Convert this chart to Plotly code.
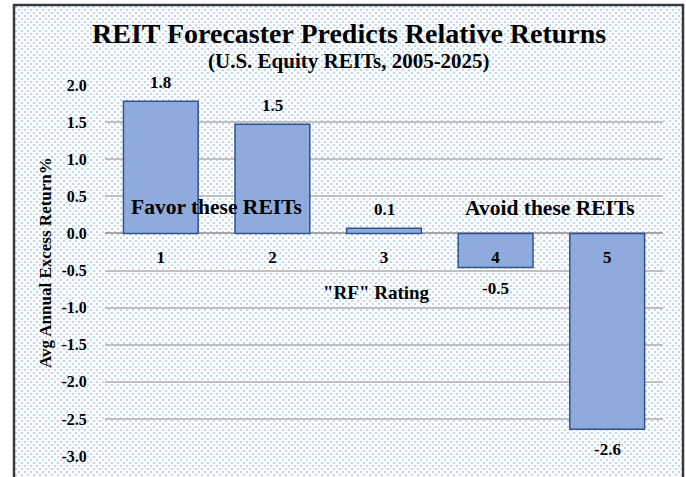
import base64
import plotly.graph_objects as go

# ---- data ----
categories = ["1", "2", "3", "4", "5"]
values = [1.78, 1.47, 0.07, -0.46, -2.64]
value_labels = ["1.8", "1.5", "0.1", "-0.5", "-2.6"]
y_tick_vals = [2.0, 1.5, 1.0, 0.5, 0.0, -0.5, -1.0, -1.5, -2.0, -2.5, -3.0]
y_tick_text = ["2.0", "1.5", "1.0", "0.5", "0.0", "-0.5", "-1.0", "-1.5", "-2.0", "-2.5", "-3.0"]
y_range = [-3.0, 2.0]

title = "REIT Forecaster Predicts Relative Returns"
subtitle = "(U.S. Equity REITs, 2005-2025)"
y_title = "Avg Annual Excess Return%"
x_title = "\"RF\" Rating"
favor_text = "Favor these REITs"
avoid_text = "Avoid these REITs"

# ---- geometry ----
W, H = 686, 477
L, R, T, B = 105, 23, 85, 21
PW, PH = W - L - R, H - T - B


def px(x):
    return (x - L) / PW


def py(y):
    return (H - B - y) / PH


SERIF = "Liberation Serif, Times New Roman, serif"
BAR_FILL = "#8faadc"
BAR_LINE = "#2f528f"

# dotted background pattern as svg
fx0, fx1, fy0, fy1 = 15, 682, 6, 477
bw, bh = fx1 - fx0, fy1 - fy0
svg = (
    f'<svg xmlns="http://www.w3.org/2000/svg" width="{bw}" height="{bh}">'
    '<defs><pattern id="p" width="6" height="6" patternUnits="userSpaceOnUse">'
    '<rect width="6" height="6" fill="#ffffff"/>'
    '<rect x="0" y="0" width="2" height="2" fill="#bdd7f2"/>'
    '<rect x="3" y="3" width="2" height="2" fill="#bdd7f2"/>'
    '</pattern></defs>'
    f'<rect width="{bw}" height="{bh}" fill="url(#p)"/></svg>'
)
svg_uri = "data:image/svg+xml;base64," + base64.b64encode(svg.encode()).decode()

fig = go.Figure()
fig.add_trace(go.Bar(
    x=categories,
    y=values,
    marker=dict(color=BAR_FILL, line=dict(color=BAR_LINE, width=1.5)),
    hoverinfo="skip",
))

annotations = []
for i, (v, lab) in enumerate(zip(values, value_labels)):
    annotations.append(dict(
        x=i, y=v, xref="x", yref="y", text=f"<b>{lab}</b>", showarrow=False,
        yanchor="bottom" if v >= 0 else "top",
        yshift=7 if v >= 0 else -9,
        font=dict(family=SERIF, size=17, color="black"),
    ))

annotations += [
    dict(x=px(349), y=py(34), xref="paper", yref="paper", text=f"<b>{title}</b>",
         showarrow=False, xanchor="center", yanchor="middle",
         font=dict(family=SERIF, size=28, color="black")),
    dict(x=px(349), y=py(61), xref="paper", yref="paper", text=f"<b>{subtitle}</b>",
         showarrow=False, xanchor="center", yanchor="middle",
         font=dict(family=SERIF, size=21, color="black")),
    dict(x=px(45), y=py(263), xref="paper", yref="paper", text=f"<b>{y_title}</b>",
         showarrow=False, xanchor="center", yanchor="middle", textangle=-90,
         font=dict(family=SERIF, size=17, color="black")),
    dict(x=px(376), y=py(292), xref="paper", yref="paper", text=f"<b>{x_title}</b>",
         showarrow=False, xanchor="center", yanchor="middle",
         font=dict(family=SERIF, size=19, color="black")),
    dict(x=px(216), y=py(207), xref="paper", yref="paper", text=f"<b>{favor_text}</b>",
         showarrow=False, xanchor="center", yanchor="middle",
         font=dict(family=SERIF, size=21.5, color="black")),
    dict(x=px(550), y=py(208), xref="paper", yref="paper", text=f"<b>{avoid_text}</b>",
         showarrow=False, xanchor="center", yanchor="middle",
         font=dict(family=SERIF, size=21.5, color="black")),
]

zero_pos = (0 - y_range[0]) / (y_range[1] - y_range[0])

fig.update_layout(
    width=W, height=H,
    margin=dict(l=L, r=R, t=T, b=B),
    paper_bgcolor="white",
    plot_bgcolor="rgba(0,0,0,0)",
    showlegend=False,
    bargap=0.33,
    annotations=annotations,
    images=[dict(
        source=svg_uri, xref="paper", yref="paper",
        x=px(fx0), y=py(fy0), sizex=bw / PW, sizey=bh / PH,
        xanchor="left", yanchor="top", sizing="stretch", layer="below",
    )],
    shapes=[dict(
        type="rect", xref="paper", yref="paper",
        x0=px(14), x1=px(683), y0=py(5), y1=py(520),
        line=dict(color="#3a3a3a", width=2.5), fillcolor="rgba(0,0,0,0)",
        layer="above",
    )],
    xaxis=dict(
        type="category", anchor="free", position=zero_pos,
        range=[-0.5, len(categories) - 0.5],
        showgrid=False, showline=False, zeroline=False,
        ticks="outside", ticklen=8, tickcolor="rgba(0,0,0,0)",
        tickfont=dict(family=SERIF, size=17, color="black"),
        tickprefix="<b>", ticksuffix="</b>",
    ),
    yaxis=dict(
        range=y_range, tickvals=y_tick_vals, ticktext=[f"<b>{t}</b>" for t in y_tick_text],
        showgrid=True, gridcolor="#c0c0c0", gridwidth=1.5,
        zeroline=True, zerolinecolor="#a6a6a6", zerolinewidth=2,
        showline=False,
        ticks="outside", ticklen=14, tickcolor="rgba(0,0,0,0)",
        tickfont=dict(family=SERIF, size=16, color="black"),
    ),
)

fig.write_html(
    "out.html",
    config={"displayModeBar": False},
    post_script="document.body.style.margin='0px';document.body.style.overflow='hidden';",
)
